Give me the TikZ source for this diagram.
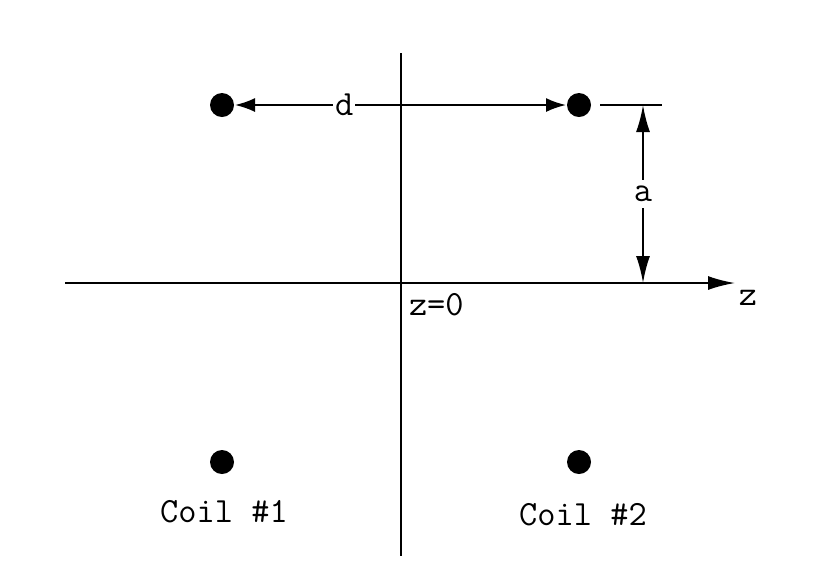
\documentclass[tikz,border=0pt]{standalone}
\usetikzlibrary{arrows.meta}

\begin{document}
\begin{tikzpicture}[x=0.5pt,y=-0.5pt,line width=1pt]
    \tikzset{coil/.style={circle,fill,inner sep=0pt,minimum size=12pt},
      lbl/.style={font=\ttfamily\fontsize{17.7}{20}\selectfont,inner sep=1pt},
      bigtip/.tip={Latex[length=13.5pt,width=7pt]},
      smalltip/.tip={Latex[length=10pt,width=7pt]}}
    \useasboundingbox (0,0) rectangle (839,586);
    \begin{scope}
      % axes
      \coordinate (zl) at (65,283);
      \coordinate (zr) at (735,283);
      \coordinate (vt) at (401,53);
      \coordinate (vb) at (401,556);
      \draw[-bigtip] (zl) -- (zr);
      \draw (vt) -- (vb);
      \node[lbl] (zlab) at (748,298) {z};
      \node[lbl,anchor=base west] (zzero) at (406,315) {z=0};
      % coils
      \node[coil] (c1top) at (222,105) {};
      \node[coil] (c2top) at (579,105) {};
      \node[coil] (c1bot) at (222,462) {};
      \node[coil] (c2bot) at (579,462) {};
      \node[lbl,anchor=base] (c1lab) at (224,522) {Coil \#1};
      \node[lbl,anchor=base] (c2lab) at (583,525) {Coil \#2};
      % dimensions
      \draw[smalltip-smalltip] (c1top) -- node[lbl,fill=white,pos=0.33] (dlab) {d} (c2top);
      \coordinate (tl) at (600,105);
      \coordinate (tr) at (662,105);
      \draw (tl) -- (tr);
      \coordinate (at) at (643,105);
      \coordinate (ab) at (643,283);
      \draw[bigtip-bigtip] (at) -- node[lbl,fill=white,inner sep=3pt] (alab) {a} (ab);
    \end{scope}
\end{tikzpicture}
\end{document}
